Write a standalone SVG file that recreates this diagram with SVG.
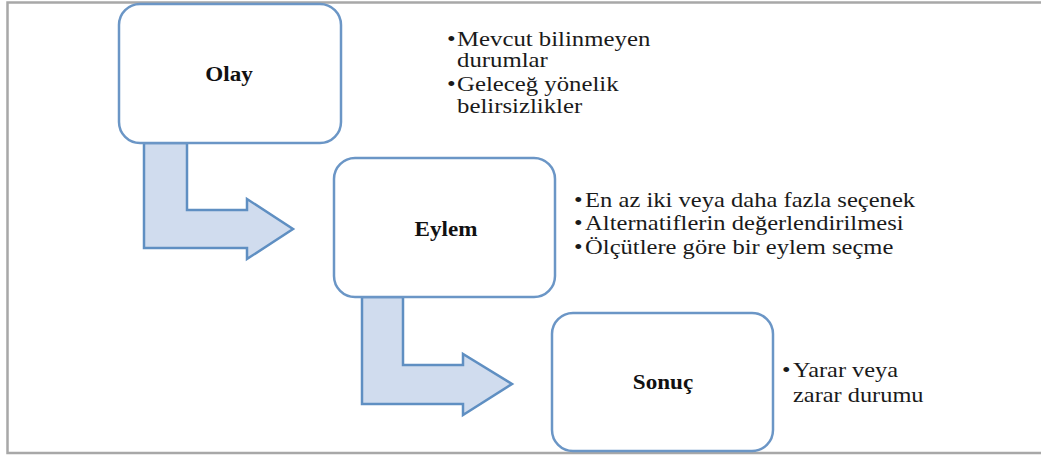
<svg xmlns="http://www.w3.org/2000/svg" width="1041" height="455" viewBox="0 0 1041 455">
  <style>
    .frame { fill: none; stroke: #a8a8a8; stroke-width: 2.5; }
    .box { fill: #ffffff; stroke: #6b96c6; stroke-width: 2.5; }
    .flow { fill: #d0dcee; stroke: #5f8fc2; stroke-width: 2.5; stroke-linejoin: miter; }
    .title { font-family: "Liberation Serif", serif; font-size: 21px; font-weight: bold; fill: #111; text-anchor: middle; }
    .item { font-family: "Liberation Serif", serif; font-size: 21px; fill: #1a1a1a; }
  </style>

  <rect x="0" y="0" width="1041" height="455" fill="#ffffff"/>
  <path class="frame" d="M1041,2.5 H7.5 V453 H1041"/>

  <!-- bent block arrows between the stages -->
  <g id="connectors">
    <polygon class="flow" points="144,143 187,143 187,210 247,210 247,199 293,229 247,259 247,248 144,248"/>
    <polygon class="flow" points="362,297 403,297 403,365 463,365 463,354 512,384 463,415 463,404 362,404"/>
  </g>

  <g id="olay">
    <rect class="box" x="119" y="4" width="222" height="139" rx="21"/>
    <text class="title" transform="translate(229,81) scale(1.1,1)">Olay</text>
  </g>

  <!-- bullet text is widened slightly to the printed proportions -->
  <g id="olay-notes" transform="translate(447,0) scale(1.18,1)">
    <text class="item" x="0" y="46">•</text>
    <text class="item" x="8.5" y="46">Mevcut bilinmeyen</text>
    <text class="item" x="8.5" y="67">durumlar</text>
    <text class="item" x="0" y="91">•</text>
    <text class="item" x="8.5" y="91">Geleceğ yönelik</text>
    <text class="item" x="8.5" y="113">belirsizlikler</text>
  </g>

  <g id="eylem">
    <rect class="box" x="334" y="158" width="221" height="139" rx="21"/>
    <text class="title" transform="translate(446,236) scale(1.1,1)">Eylem</text>
  </g>

  <g id="eylem-notes" transform="translate(574,0) scale(1.17,1)">
    <text class="item" x="0" y="207">•</text>
    <text class="item" x="9.5" y="207">En az iki veya daha fazla seçenek</text>
    <text class="item" x="0" y="230">•</text>
    <text class="item" x="9.5" y="230">Alternatiflerin değerlendirilmesi</text>
    <text class="item" x="0" y="254">•</text>
    <text class="item" x="9.5" y="254">Ölçütlere göre bir eylem seçme</text>
  </g>

  <g id="sonuc">
    <rect class="box" x="552" y="313" width="221" height="138" rx="21"/>
    <text class="title" transform="translate(663,389) scale(1.1,1)">Sonuç</text>
  </g>

  <g id="sonuc-notes" transform="translate(782,0) scale(1.16,1)">
    <text class="item" x="0" y="377">•</text>
    <text class="item" x="9.5" y="377">Yarar veya</text>
    <text class="item" x="9.5" y="402">zarar durumu</text>
  </g>
</svg>
